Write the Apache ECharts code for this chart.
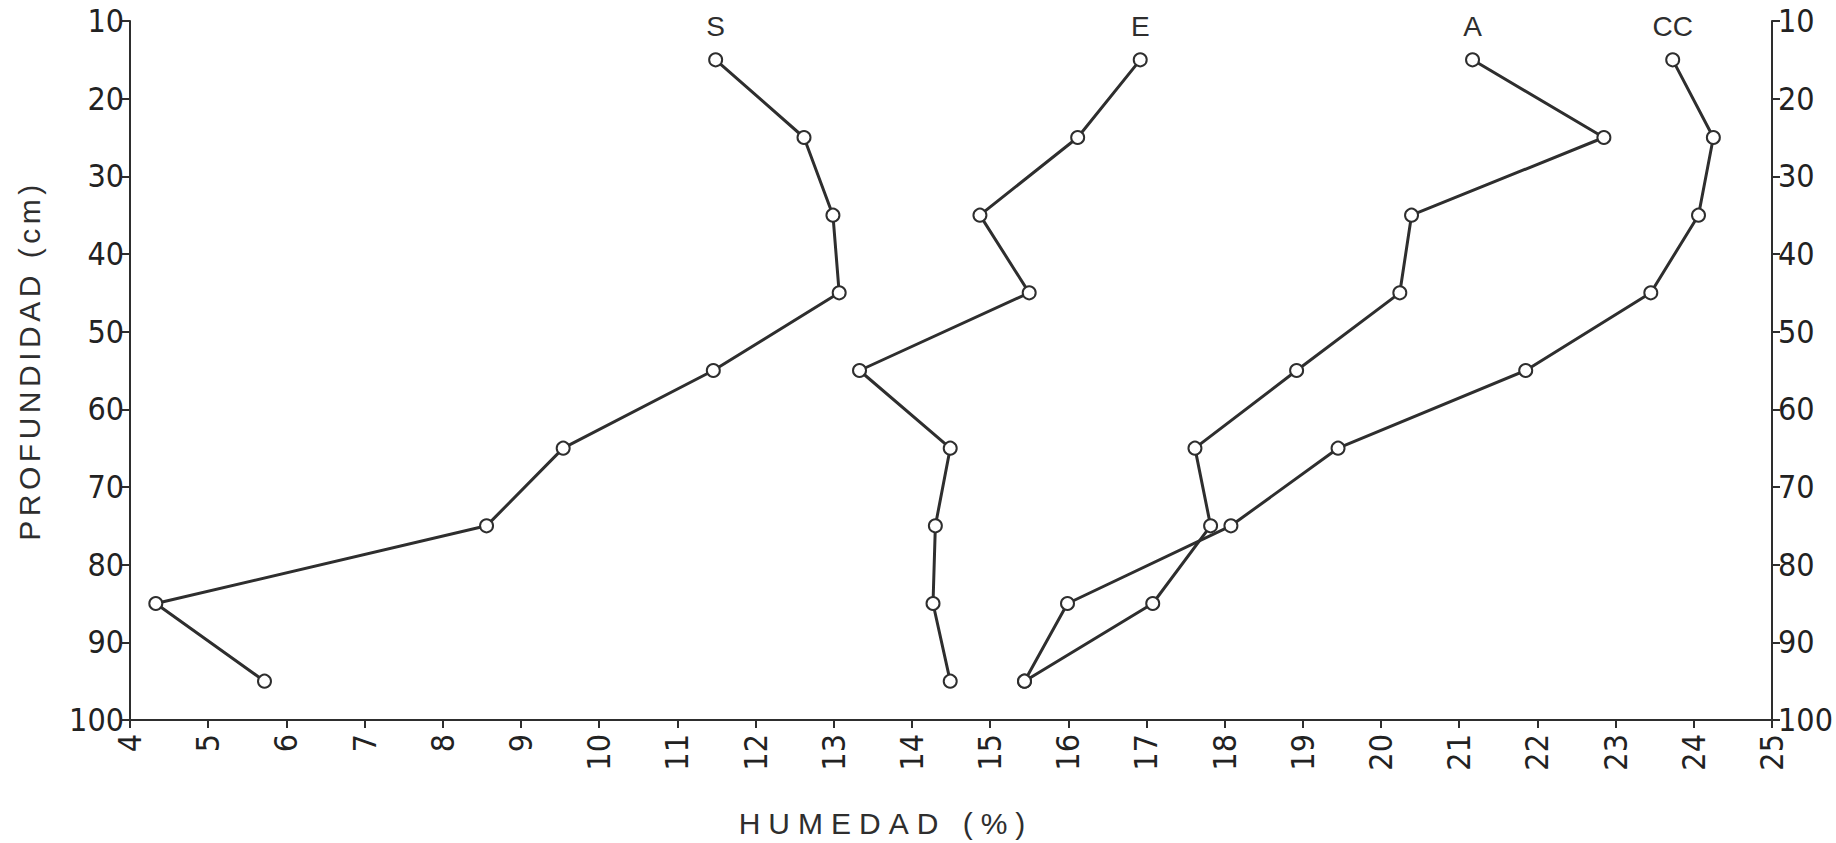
<!DOCTYPE html>
<html>
<head>
<meta charset="utf-8">
<script src="https://cdn.jsdelivr.net/npm/echarts@6/dist/echarts.min.js"></script>
<style>
html,body{margin:0;padding:0;background:#fff;}
#chart{width:1836px;height:843px;}
</style>
</head>
<body>
<div id="chart"></div>
<script>
// Depth (cm) of each sample
var depths = [15, 25, 35, 45, 55, 65, 75, 85, 95];
// Moisture (%) per profile
var serieS  = [11.49, 12.62, 12.99, 13.07, 11.46, 9.54, 8.56, 4.33, 5.72];
var serieE  = [16.92, 16.12, 14.87, 15.50, 13.33, 14.49, 14.30, 14.27, 14.49];
var serieA  = [21.17, 22.85, 20.39, 20.24, 18.92, 17.62, 17.82, 17.08, 15.44];
var serieCC = [23.73, 24.25, 24.06, 23.45, 21.85, 19.45, 18.08, 15.99, 15.44];
var seriesNames = ['S', 'E', 'A', 'CC'];
var xTickMin = 4, xTickMax = 25;
var yTickMin = 10, yTickMax = 100;
var xTitle = 'HUMEDAD (%)';
var yTitle = 'PROFUNDIDAD (cm)';

var INK = '#2e2e2e';
var FONT = "'Liberation Sans Narrow', 'DejaVu Sans Condensed', 'Liberation Sans', sans-serif";

function pairs(vals) {
  return vals.map(function (v, i) { return [v, depths[i]]; });
}

function makeSeries(name, vals) {
  var data = pairs(vals).map(function (p, i) {
    var item = { value: p };
    if (i === 0) {
      item.label = {
        show: true, formatter: name, position: 'top', distance: 12,
        fontFamily: "'Liberation Sans', sans-serif", fontSize: 28, color: INK
      };
    }
    return item;
  });
  return {
    name: name, type: 'line', data: data,
    symbol: 'emptyCircle', symbolSize: 13,
    lineStyle: { color: INK, width: 3 },
    itemStyle: { color: INK, borderColor: INK, borderWidth: 2.4 },
    label: { show: false },
    z: 3
  };
}

var chart = echarts.init(document.getElementById('chart'), null, { renderer: 'svg', width: 1836, height: 843 });

var yAxisBase = {
  type: 'value', inverse: true, min: yTickMin, max: yTickMax, interval: 10,
  axisLine: { show: true, lineStyle: { color: INK, width: 2 } },
  axisTick: { show: true, length: 8, lineStyle: { color: INK, width: 2 } },
  splitLine: { show: false },
  axisLabel: { fontFamily: FONT, fontSize: 32, color: '#222', margin: 6 }
};

chart.setOption({
  animation: false,
  backgroundColor: '#fff',
  grid: { left: 130, right: 64, top: 21, bottom: 123 },
  xAxis: {
    type: 'value', min: xTickMin, max: xTickMax, interval: 1,
    name: xTitle, nameLocation: 'middle', nameGap: 88,
    nameTextStyle: { fontFamily: "'Liberation Sans', sans-serif", fontSize: 30, color: INK, padding: [0, 130, 0, 0] },
    axisLine: { show: true, onZero: false, lineStyle: { color: INK, width: 2 } },
    axisTick: { show: true, length: 8, lineStyle: { color: INK, width: 2 } },
    splitLine: { show: false },
    axisLabel: { rotate: 90, fontFamily: FONT, fontSize: 32, color: '#222', margin: 14 }
  },
  yAxis: [
    Object.assign({}, yAxisBase, {
      position: 'left',
      name: yTitle, nameLocation: 'middle', nameGap: 86,
      nameTextStyle: { fontFamily: "'Liberation Sans', sans-serif", fontSize: 30, color: INK, padding: [0, 0, 0, 20] }
    }),
    Object.assign({}, yAxisBase, { position: 'right' })
  ],
  series: [
    makeSeries(seriesNames[0], serieS),
    makeSeries(seriesNames[1], serieE),
    makeSeries(seriesNames[2], serieA),
    makeSeries(seriesNames[3], serieCC)
  ]
});

function spaceTitles() {
  var texts = document.querySelectorAll('#chart text');
  texts.forEach(function (t) {
    var c = t.textContent;
    if (c === yTitle) t.style.letterSpacing = '4.5px';
    if (c === xTitle) t.style.letterSpacing = '8px';
  });
}
spaceTitles();
chart.on('finished', spaceTitles);
setTimeout(spaceTitles, 50);
</script>
</body>
</html>
